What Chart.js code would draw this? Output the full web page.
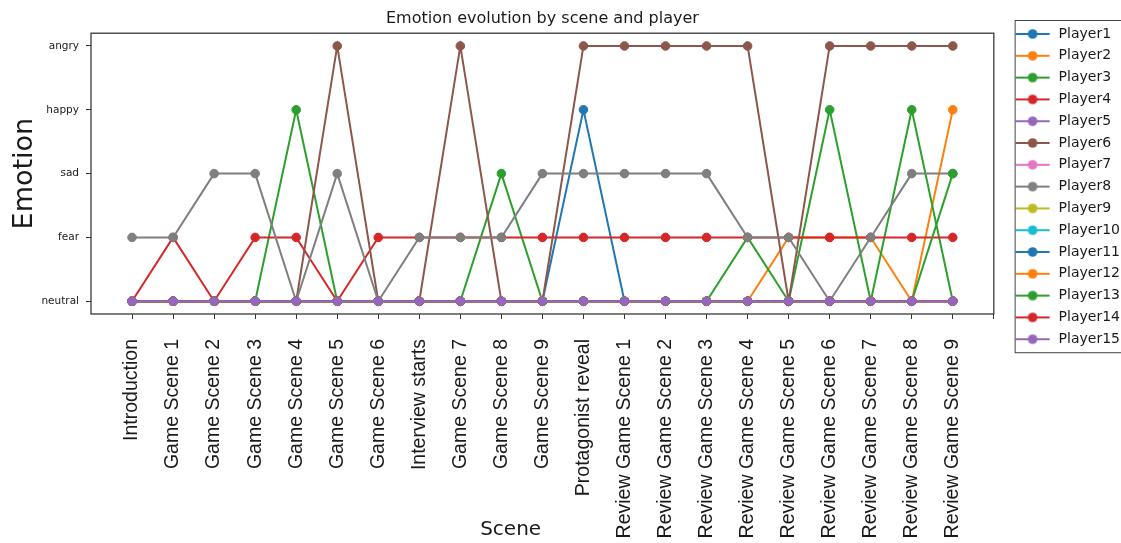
<!DOCTYPE html>
<html>
<head>
<meta charset="utf-8">
<title>Emotion evolution by scene and player</title>
<script src="https://cdn.jsdelivr.net/npm/chart.js@4.4.1/dist/chart.umd.min.js"></script>
<style>
  html, body { margin: 0; padding: 0; background: #fff; }
  #wrap { width: 1121px; height: 543px; position: relative; }
</style>
</head>
<body>
<div id="wrap"><canvas id="grafica"></canvas></div>
<script>
// ==========================================
// DATOS
// ==========================================
const scenes = [
    'Introduction', 'Game Scene 1', 'Game Scene 2', 'Game Scene 3', 'Game Scene 4',
    'Game Scene 5', 'Game Scene 6', 'Interview starts', 'Game Scene 7', 'Game Scene 8',
    'Game Scene 9', 'Protagonist reveal', 'Review Game Scene 1', 'Review Game Scene 2',
    'Review Game Scene 3', 'Review Game Scene 4', 'Review Game Scene 5', 'Review Game Scene 6',
    'Review Game Scene 7', 'Review Game Scene 8', 'Review Game Scene 9'
];

// etiquetas del eje Y (indice = valor)
const emotions = ['neutral', 'fear', 'sad', 'happy', 'angry'];

const players = ['Player1', 'Player2', 'Player3', 'Player4', 'Player5', 'Player6', 'Player7', 'Player8',
    'Player9', 'Player10', 'Player11', 'Player12', 'Player13', 'Player14', 'Player15'];

// 0 neutral, 1 fear, 2 sad, 3 happy, 4 angry
const player1  = [0,0,0,0,0,0,0,0,0,0,0,3,0,0,0,0,0,0,0,0,0];
const player2  = [0,0,0,0,0,0,0,0,0,0,0,0,0,0,0,0,1,1,1,0,3];
const player3  = [0,0,0,0,3,0,0,0,0,2,0,0,0,0,0,1,0,3,0,3,0];
const player4  = [0,1,0,1,1,0,1,1,1,1,1,1,1,1,1,1,1,1,1,1,1];
const player5  = [0,0,0,0,0,0,0,0,0,0,0,0,0,0,0,0,0,0,0,0,0];
const player6  = [0,0,0,0,0,4,0,0,4,0,0,4,4,4,4,4,0,4,4,4,4];
const player7  = [0,0,0,0,0,0,0,0,0,0,0,0,0,0,0,0,0,0,0,0,0];
const player8  = [1,1,2,2,0,2,0,1,1,1,2,2,2,2,2,1,1,0,1,2,2];
const player9  = [0,0,0,0,0,0,0,0,0,0,0,0,0,0,0,0,0,0,0,0,0];
const player10 = [0,0,0,0,0,0,0,0,0,0,0,0,0,0,0,0,0,0,0,0,0];
const player11 = [0,0,0,0,0,0,0,0,0,0,0,0,0,0,0,0,0,0,0,0,0];
const player12 = [0,0,0,0,0,0,0,0,0,0,0,0,0,0,0,0,0,0,0,0,0];
const player13 = [0,0,0,0,0,0,0,0,0,0,0,0,0,0,0,0,0,0,0,0,2];
const player14 = [0,0,0,0,0,0,0,0,0,0,0,0,0,0,0,0,0,0,0,0,0];
const player15 = [0,0,0,0,0,0,0,0,0,0,0,0,0,0,0,0,0,0,0,0,0];

const series = [player1, player2, player3, player4, player5, player6, player7, player8,
    player9, player10, player11, player12, player13, player14, player15];

// paleta tab10 de matplotlib
const colores = ['#1f77b4', '#ff7f0e', '#2ca02c', '#d62728', '#9467bd',
    '#8c564b', '#e377c2', '#7f7f7f', '#bcbd22', '#17becf'];

const TEXT = '#1a1a1a';

// ==========================================
// ICONOS DE LEYENDA (linea + punto)
// ==========================================
function crearIcono(color) {
    const c = document.createElement('canvas');
    c.width = 50;
    c.height = 12;
    const g = c.getContext('2d');
    g.strokeStyle = color;
    g.lineWidth = 2;
    g.beginPath();
    g.moveTo(14, 6);
    g.lineTo(48, 6);
    g.stroke();
    g.fillStyle = color;
    g.beginPath();
    g.arc(31, 6, 4.8, 0, Math.PI * 2);
    g.fill();
    return c;
}
const iconos = players.map((p, i) => crearIcono(colores[i % 10]));

// ==========================================
// PLUGIN: marco del grafico y borde de leyenda
// ==========================================
const marcoPlugin = {
    id: 'marco',
    afterDatasetsDraw(chart) {
        const { ctx, chartArea: a } = chart;
        ctx.save();
        ctx.strokeStyle = '#3a3a3a';
        ctx.lineWidth = 1.3;
        ctx.strokeRect(a.left, a.top, a.right - a.left, a.bottom - a.top);
        ctx.restore();
    },
    afterDraw(chart) {
        const hb = chart.legend && chart.legend.legendHitBoxes;
        if (!hb || !hb.length) return;
        const first = hb[0];
        const last = hb[hb.length - 1];
        const x = first.left + 13;
        const y = first.top - 7;
        const ctx = chart.ctx;
        ctx.save();
        ctx.strokeStyle = '#444';
        ctx.lineWidth = 1;
        ctx.strokeRect(x + 0.5, y + 0.5, chart.width + 5 - x, last.top + last.height + 6 - y);
        ctx.restore();
    }
};

// ==========================================
// GRAFICA
// ==========================================
const datasets = series.map((vals, i) => ({
    label: players[i],
    data: vals.map((v, j) => ({ x: j, y: v })),
    borderColor: colores[i % 10],
    backgroundColor: colores[i % 10],
    pointBackgroundColor: colores[i % 10],
    pointBorderColor: colores[i % 10],
    borderWidth: 2,
    pointRadius: 4.3,
    pointBorderWidth: 1,
    tension: 0,
    fill: false,
    order: series.length - i   // el ultimo jugador se dibuja encima, como en matplotlib
}));

const ctx = document.getElementById('grafica').getContext('2d');
new Chart(ctx, {
    type: 'line',
    data: { datasets: datasets },
    plugins: [marcoPlugin],
    options: {
        responsive: true,
        maintainAspectRatio: false,
        animation: false,
        devicePixelRatio: 1,
        layout: { padding: { left: 0, top: 0, bottom: 0, right: -9 } },
        plugins: {
            tooltip: { enabled: false },
            title: {
                display: true,
                text: 'Emotion evolution by scene and player',
                fullSize: false,
                color: TEXT,
                font: { family: 'DejaVu Sans', size: 16, weight: 'normal' },
                padding: { top: 9, bottom: 5 }
            },
            legend: {
                position: 'right',
                align: 'start',
                fullSize: true,
                title: { display: true, text: '', font: { size: 1 }, padding: { top: 18, bottom: 0 } },
                labels: {
                    usePointStyle: true,
                    pointStyleWidth: 50,
                    padding: 7.8,
                    color: TEXT,
                    font: { family: 'DejaVu Sans', size: 14 },
                    sort: (a, b) => a.datasetIndex - b.datasetIndex,
                    generateLabels(chart) {
                        const items = Chart.defaults.plugins.legend.labels.generateLabels(chart);
                        items.forEach(it => { it.pointStyle = iconos[it.datasetIndex]; });
                        return items;
                    }
                }
            }
        },
        scales: {
            x: {
                type: 'linear',
                min: -1,
                max: 21,
                afterBuildTicks(scale) {
                    const t = [];
                    for (let i = 0; i <= scenes.length; i++) t.push({ value: i });
                    scale.ticks = t;
                },
                afterFit(scale) { scale.height = 229; },
                grid: { display: true, drawOnChartArea: false, tickLength: 5, color: '#333' },
                border: { display: false },
                ticks: {
                    autoSkip: false,
                    minRotation: 90,
                    maxRotation: 90,
                    padding: 20,
                    color: TEXT,
                    font: { family: 'Liberation Sans', size: 19.5 },
                    callback: (v) => scenes[v] !== undefined ? scenes[v] : ''
                },
                title: {
                    display: true,
                    text: 'Scene          ',
                    color: TEXT,
                    font: { family: 'DejaVu Sans', size: 20 },
                    padding: { top: 0, bottom: 1 }
                }
            },
            y: {
                type: 'linear',
                min: -0.2,
                max: 4.2,
                afterBuildTicks(scale) {
                    scale.ticks = emotions.map((e, i) => ({ value: i }));
                },
                afterFit(scale) { scale.width = 91; },
                grid: { display: true, drawOnChartArea: false, tickLength: 5, color: '#333' },
                border: { display: false },
                ticks: {
                    padding: 7,
                    color: TEXT,
                    font: { family: 'DejaVu Sans', size: 10.5 },
                    callback: (v) => emotions[v] !== undefined ? emotions[v] : ''
                },
                title: {
                    display: true,
                    text: 'Emotion',
                    color: TEXT,
                    font: { family: 'DejaVu Sans', size: 27 },
                    padding: { top: 9, bottom: 0 }
                }
            }
        }
    }
});
</script>
</body>
</html>
